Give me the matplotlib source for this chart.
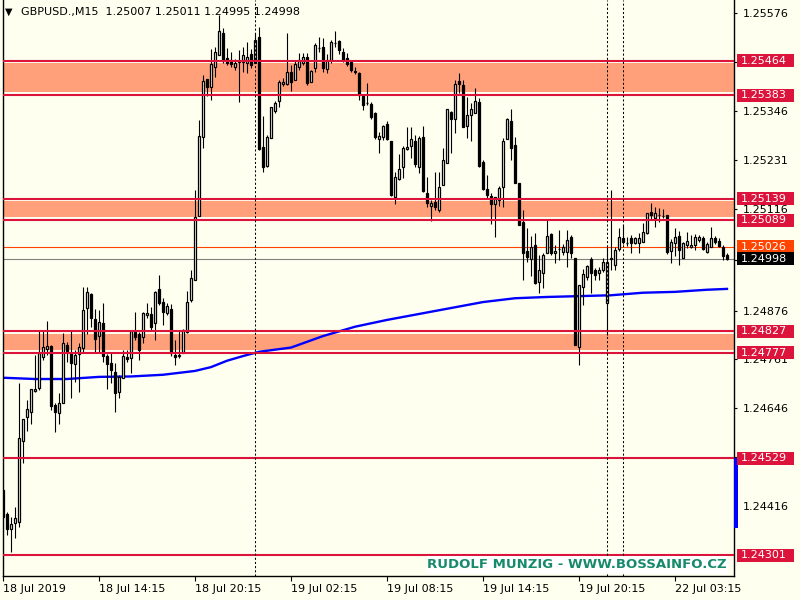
import matplotlib.pyplot as plt
import matplotlib.transforms as mtransforms
from matplotlib.patches import Rectangle
import numpy as np

# GBPUSD M15 candles
opens = [1.24454, 1.24398, 1.24362, 1.24376, 1.24379, 1.24569, 1.24626, 1.24638, 1.24687, 1.24694,
         1.24767, 1.24786, 1.24793, 1.24654, 1.24635, 1.24659, 1.24795, 1.24776, 1.24751, 1.24774,
         1.24788, 1.24882, 1.24915, 1.24856, 1.24816, 1.24847, 1.24769, 1.24753, 1.24732, 1.24685,
         1.24718, 1.24767, 1.24765, 1.24826, 1.24821, 1.24814, 1.24866, 1.24868, 1.24847, 1.24927,
         1.24896, 1.24871, 1.24880, 1.24772, 1.24769, 1.24776, 1.24826, 1.24901, 1.24948, 1.25099,
         1.25285, 1.25421, 1.25402, 1.25449, 1.25478, 1.25529, 1.25471, 1.25466, 1.25449, 1.25461,
         1.25461, 1.25459, 1.25480, 1.25459, 1.25520, 1.25261, 1.25216, 1.25282, 1.25346, 1.25369,
         1.25409, 1.25409, 1.25438, 1.25419, 1.25449, 1.25459, 1.25473, 1.25414, 1.25447, 1.25494,
         1.25496, 1.25445, 1.25466, 1.25506, 1.25511, 1.25485, 1.25471, 1.25461, 1.25440, 1.25435,
         1.25381, 1.25365, 1.25362, 1.25341, 1.25280, 1.25285, 1.25315, 1.25275, 1.25144, 1.25186,
         1.25214, 1.25256, 1.25263, 1.25275, 1.25214, 1.25285, 1.25153, 1.25122, 1.25132, 1.25113,
         1.25172, 1.25223, 1.25343, 1.25327, 1.25416, 1.25407, 1.25311, 1.25336, 1.25341, 1.25367,
         1.25226, 1.25162, 1.25146, 1.25127, 1.25136, 1.25167, 1.25280, 1.25322, 1.25266, 1.25176,
         1.25085, 1.25016, 1.24998, 1.25031, 1.24944, 1.24965, 1.25012, 1.25056, 1.25012, 1.25021,
         1.25014, 1.25014, 1.25049, 1.25000, 1.24791, 1.24932, 1.24955, 1.24998, 1.24972, 1.24965,
         1.24972, 1.24894, 1.24998, 1.24984, 1.25021, 1.25047, 1.25035, 1.25047, 1.25035, 1.25035,
         1.25038, 1.25059, 1.25108, 1.25094, 1.25101, 1.25099, 1.25101, 1.25016, 1.25035, 1.25052,
         1.25000, 1.25031, 1.25026, 1.25031, 1.25042, 1.25047, 1.25014, 1.25026, 1.25047, 1.25040,
         1.25026, 1.25007]
highs = [1.24459, 1.24402, 1.24390, 1.24414, 1.24706, 1.24621, 1.24666, 1.24692, 1.24772, 1.24831,
         1.24831, 1.24852, 1.24795, 1.24659, 1.24682, 1.24824, 1.24802, 1.24828, 1.24783, 1.24800,
         1.24932, 1.24932, 1.24918, 1.24880, 1.24878, 1.24894, 1.24774, 1.24776, 1.24753, 1.24725,
         1.24783, 1.24783, 1.24831, 1.24873, 1.24826, 1.24873, 1.24894, 1.24885, 1.24922, 1.24960,
         1.24906, 1.24894, 1.24892, 1.24807, 1.24831, 1.24833, 1.24922, 1.24972, 1.25160, 1.25325,
         1.25431, 1.25421, 1.25492, 1.25496, 1.25572, 1.25541, 1.25494, 1.25485, 1.25468, 1.25489,
         1.25496, 1.25508, 1.25492, 1.25529, 1.25544, 1.25334, 1.25289, 1.25355, 1.25369, 1.25419,
         1.25423, 1.25529, 1.25454, 1.25463, 1.25482, 1.25482, 1.25482, 1.25442, 1.25506, 1.25520,
         1.25518, 1.25480, 1.25513, 1.25534, 1.25513, 1.25494, 1.25482, 1.25466, 1.25449, 1.25438,
         1.25386, 1.25412, 1.25367, 1.25343, 1.25296, 1.25313, 1.25322, 1.25275, 1.25202, 1.25245,
         1.25263, 1.25308, 1.25308, 1.25289, 1.25287, 1.25311, 1.25191, 1.25136, 1.25202, 1.25202,
         1.25259, 1.25350, 1.25346, 1.25419, 1.25435, 1.25419, 1.25379, 1.25365, 1.25400, 1.25376,
         1.25230, 1.25195, 1.25153, 1.25144, 1.25169, 1.25282, 1.25329, 1.25350, 1.25285, 1.25176,
         1.25113, 1.25071, 1.25052, 1.25059, 1.25007, 1.25012, 1.25092, 1.25059, 1.25031, 1.25066,
         1.25033, 1.25066, 1.25054, 1.25000, 1.24936, 1.24974, 1.24984, 1.25002, 1.24976, 1.24979,
         1.25000, 1.25026, 1.25160, 1.25026, 1.25071, 1.25078, 1.25049, 1.25054, 1.25049, 1.25059,
         1.25082, 1.25106, 1.25129, 1.25120, 1.25118, 1.25115, 1.25101, 1.25045, 1.25071, 1.25063,
         1.25038, 1.25061, 1.25054, 1.25056, 1.25054, 1.25052, 1.25038, 1.25073, 1.25052, 1.25047,
         1.25031, 1.25011]
lows = [1.24386, 1.24348, 1.24308, 1.24341, 1.24367, 1.24518, 1.24593, 1.24609, 1.24685, 1.24689,
        1.24760, 1.24772, 1.24642, 1.24591, 1.24609, 1.24659, 1.24755, 1.24671, 1.24708, 1.24685,
        1.24776, 1.24821, 1.24838, 1.24779, 1.24776, 1.24755, 1.24692, 1.24706, 1.24638, 1.24671,
        1.24718, 1.24755, 1.24729, 1.24807, 1.24760, 1.24800, 1.24859, 1.24831, 1.24807, 1.24889,
        1.24842, 1.24866, 1.24769, 1.24748, 1.24765, 1.24776, 1.24824, 1.24896, 1.24948, 1.25099,
        1.25259, 1.25381, 1.25372, 1.25426, 1.25478, 1.25459, 1.25454, 1.25449, 1.25442, 1.25367,
        1.25438, 1.25435, 1.25447, 1.25459, 1.25254, 1.25202, 1.25214, 1.25282, 1.25341, 1.25355,
        1.25405, 1.25407, 1.25393, 1.25419, 1.25442, 1.25454, 1.25407, 1.25414, 1.25438, 1.25485,
        1.25438, 1.25435, 1.25459, 1.25496, 1.25480, 1.25461, 1.25452, 1.25438, 1.25433, 1.25372,
        1.25348, 1.25360, 1.25327, 1.25280, 1.25247, 1.25278, 1.25278, 1.25146, 1.25127, 1.25184,
        1.25188, 1.25254, 1.25235, 1.25214, 1.25200, 1.25155, 1.25120, 1.25087, 1.25113, 1.25108,
        1.25172, 1.25223, 1.25247, 1.25294, 1.25388, 1.25308, 1.25282, 1.25275, 1.25341, 1.25214,
        1.25160, 1.25141, 1.25080, 1.25049, 1.25122, 1.25120, 1.25280, 1.25230, 1.25176, 1.25078,
        1.24948, 1.24991, 1.24958, 1.24939, 1.24918, 1.24929, 1.25012, 1.25007, 1.24988, 1.24995,
        1.25007, 1.24979, 1.25000, 1.24795, 1.24748, 1.24889, 1.24948, 1.24918, 1.24948, 1.24948,
        1.24967, 1.24819, 1.24972, 1.24972, 1.25016, 1.25033, 1.25028, 1.25012, 1.25033, 1.25012,
        1.25038, 1.25056, 1.25089, 1.25073, 1.25085, 1.25094, 1.25009, 1.24988, 1.25005, 1.24984,
        1.25000, 1.25023, 1.25023, 1.25019, 1.25038, 1.25019, 1.25012, 1.25026, 1.25033, 1.25026,
        1.24995, 1.24995]
closes = [1.24390, 1.24362, 1.24374, 1.24388, 1.24576, 1.24621, 1.24645, 1.24692, 1.24692, 1.24776,
          1.24791, 1.24793, 1.24652, 1.24638, 1.24659, 1.24800, 1.24781, 1.24753, 1.24772, 1.24791,
          1.24878, 1.24920, 1.24859, 1.24809, 1.24849, 1.24769, 1.24751, 1.24736, 1.24682, 1.24720,
          1.24769, 1.24762, 1.24828, 1.24814, 1.24783, 1.24871, 1.24871, 1.24838, 1.24920, 1.24894,
          1.24873, 1.24887, 1.24776, 1.24767, 1.24772, 1.24831, 1.24896, 1.24953, 1.25096, 1.25287,
          1.25416, 1.25402, 1.25456, 1.25485, 1.25534, 1.25466, 1.25459, 1.25456, 1.25459, 1.25466,
          1.25478, 1.25473, 1.25454, 1.25513, 1.25256, 1.25214, 1.25285, 1.25355, 1.25365, 1.25414,
          1.25414, 1.25438, 1.25414, 1.25456, 1.25466, 1.25473, 1.25412, 1.25440, 1.25501, 1.25494,
          1.25447, 1.25466, 1.25508, 1.25506, 1.25489, 1.25466, 1.25456, 1.25442, 1.25438, 1.25383,
          1.25360, 1.25365, 1.25332, 1.25285, 1.25287, 1.25311, 1.25280, 1.25148, 1.25191, 1.25209,
          1.25259, 1.25261, 1.25280, 1.25221, 1.25282, 1.25158, 1.25129, 1.25129, 1.25120, 1.25167,
          1.25230, 1.25350, 1.25327, 1.25409, 1.25409, 1.25308, 1.25336, 1.25350, 1.25369, 1.25216,
          1.25162, 1.25148, 1.25127, 1.25144, 1.25165, 1.25275, 1.25327, 1.25259, 1.25176, 1.25078,
          1.25012, 1.25002, 1.25026, 1.24941, 1.24972, 1.25007, 1.25052, 1.25012, 1.25016, 1.25021,
          1.25026, 1.25042, 1.25012, 1.24795, 1.24936, 1.24962, 1.24981, 1.24965, 1.24960, 1.24972,
          1.24991, 1.24991, 1.25000, 1.25019, 1.25049, 1.25038, 1.25035, 1.25035, 1.25047, 1.25047,
          1.25061, 1.25106, 1.25101, 1.25106, 1.25101, 1.25099, 1.25014, 1.25038, 1.25049, 1.25019,
          1.25035, 1.25040, 1.25031, 1.25049, 1.25049, 1.25021, 1.25033, 1.25047, 1.25038, 1.25028,
          1.25005, 1.24998]

# moving average (blue), read at some bars
ma_bars = [0, 8, 16, 24, 32, 40, 48, 52, 56, 60, 64, 72, 80, 88, 96, 104, 112, 120, 128, 136,
           144, 152, 160, 168, 176, 181]
ma_vals = [1.24718, 1.24715, 1.24715, 1.24720, 1.24721, 1.24725, 1.24734, 1.24743, 1.24758, 1.24769,
           1.24779, 1.24789, 1.24816, 1.24838, 1.24854, 1.24868, 1.24882, 1.24896, 1.24905, 1.24908,
           1.24910, 1.24912, 1.24918, 1.24920, 1.24925, 1.24927]

zones = [(1.25383, 1.25464), (1.25089, 1.25139), (1.24777, 1.24827)]
single_lines = [1.24529, 1.24301]
ask_price = 1.25026
bid_price = 1.24998
vlines_bars = [63, 151, 155]
ind_bar = (1.24365, 1.24529)

# price scale ticks; labels that sit fully under a coloured price box are not shown
ytick_vals = [1.25576, 1.25461, 1.25346, 1.25231, 1.25116, 1.24996, 1.24876, 1.24761, 1.24646, 1.24531, 1.24416]
ytick_labels = ['1.25576', '', '1.25346', '1.25231', '1.25116', '', '1.24876', '1.24761', '1.24646', '', '1.24416']
xtick_bars = [0, 24, 48, 72, 96, 120, 144, 168]
xtick_labels = ['18 Jul 2019', '18 Jul 14:15', '18 Jul 20:15', '19 Jul 02:15',
                '19 Jul 08:15', '19 Jul 14:15', '19 Jul 20:15', '22 Jul 03:15']

bg = '#FFFFF0'
red = '#DC143C'
salmon = '#FFA07A'

fig = plt.figure(figsize=(8, 6), dpi=100, facecolor=bg)
ax = fig.add_axes([2.5 / 800, 24 / 600, 731.5 / 800, 576 / 600], facecolor=bg)

px = 2.3524e-5  # price per pixel
ax.set_xlim(-0.125, 182.75)
ax.set_ylim(1.242516, 1.256066)

x = np.arange(len(opens))
o, h, l, c = map(np.array, (opens, highs, lows, closes))

# zones
for lo, hi in zones:
    ax.fill_between([-1, 200], lo + 2.6 * px, hi - 2.6 * px, color=salmon, lw=0, zorder=1)
    for p in (lo, hi):
        ax.axhline(p, color=red, lw=1.5, zorder=4)
for p in single_lines:
    ax.axhline(p, color=red, lw=1.5, zorder=4)

ax.axhline(ask_price, color='#FF4500', lw=0.8, zorder=2)
ax.axhline(bid_price, color='#808080', lw=0.8, zorder=2)

ax.plot(ma_bars, ma_vals, color='#0000FF', lw=1.7, zorder=2.5)

# candles
ax.vlines(x, l, h, color='black', lw=0.8, zorder=3)
up = c >= o
ax.bar(x, np.abs(c - o), bottom=np.minimum(o, c), width=0.62,
       color=np.where(up, 'white', 'black'), edgecolor='black', lw=0.9, zorder=3.5)

for b in vlines_bars:
    ax.axvline(b, color='black', lw=0.75, ls=(0, (2, 2)), zorder=5)

# axes look
ax.spines['top'].set_visible(False)
for s in ['left', 'right', 'bottom']:
    ax.spines[s].set_linewidth(1.0)
ax.yaxis.tick_right()
ax.set_yticks(ytick_vals)
ax.set_yticklabels(ytick_labels)
ax.tick_params(axis='y', direction='out', length=2.5, width=0.8, pad=3.5, labelsize=8)
ax.set_xticks(xtick_bars)
ax.set_xticklabels(xtick_labels, ha='left')
ax.tick_params(axis='x', direction='out', length=3.5, width=0.8, pad=2, labelsize=8)

# price labels on the right
blend = mtransforms.blended_transform_factory(ax.transAxes, ax.transData)
x0 = (737 - 2.5) / 731.5
w = 57 / 731.5
hgt = 13 * px
labels = [(p, red) for z in zones for p in z] + [(p, red) for p in single_lines] + \
         [(ask_price, '#FF4500'), (bid_price, 'black')]
for p, col in labels:
    ax.add_patch(Rectangle((x0, p - hgt / 2), w, hgt, transform=blend, facecolor=col,
                           edgecolor='none', clip_on=False, zorder=10))
    ax.text((741 - 2.5) / 731.5, p, f'{p:.5f}', transform=blend, color='white', fontsize=8,
            ha='left', va='center', clip_on=False, zorder=11)

# indicator bar at the right edge
ax.add_patch(Rectangle((1.0, ind_bar[0]), 4 / 731.5, ind_bar[1] - ind_bar[0], transform=blend,
                       facecolor='#0000FF', edgecolor='none', clip_on=False, zorder=9))

# header
fig.text(5 / 800, 1 - 12 / 600, '\u25bc', fontsize=7, va='center', ha='left')
fig.text(21 / 800, 1 - 12 / 600, 'GBPUSD.,M15  1.25007 1.25011 1.24995 1.24998',
         fontsize=8, va='center', ha='left')

# watermark
fig.add_artist(Rectangle((427 / 800, 1 - 574 / 600), 301 / 800, 18 / 600,
                         transform=fig.transFigure, facecolor='white', edgecolor='none', zorder=5))
fig.text(577 / 800, 1 - 565 / 600, 'RUDOLF MUNZIG - WWW.BOSSAINFO.CZ', fontsize=9.5,
         fontweight='bold', color='#168A6A', ha='center', va='center', zorder=6)

fig.savefig('out.png', dpi=100, facecolor=bg)
